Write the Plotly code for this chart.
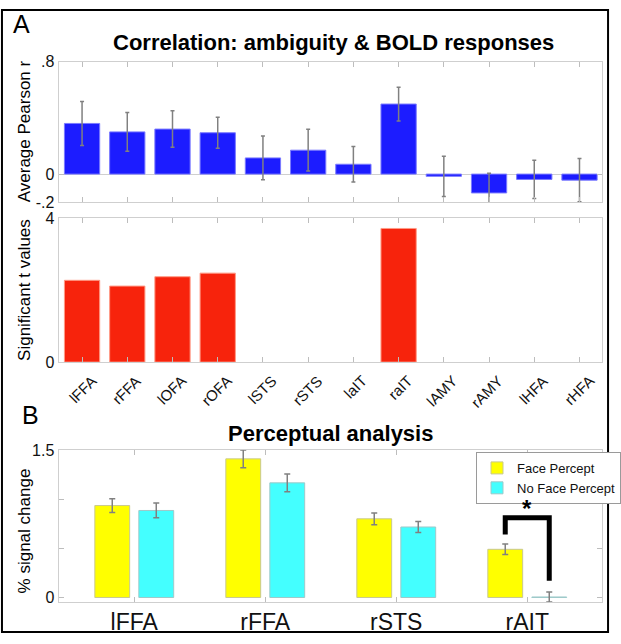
import plotly.graph_objects as go

# ---- data ----
regions = ['lFFA', 'rFFA', 'lOFA', 'rOFA', 'lSTS', 'rSTS', 'laIT', 'raIT',
           'lAMY', 'rAMY', 'lHFA', 'rHFA']
corr_r = [0.36, 0.30, 0.32, 0.294, 0.115, 0.17, 0.07, 0.498,
          -0.016, -0.134, -0.038, -0.043]
corr_err = [0.156, 0.137, 0.13, 0.11, 0.155, 0.148, 0.126, 0.12,
            0.143, 0.14, 0.136, 0.154]
t_values = [2.27, 2.11, 2.37, 2.47, None, None, None, 3.71,
            None, None, None, None]

percept_regions = ['lFFA', 'rFFA', 'rSTS', 'rAIT']
face = [0.935, 1.41, 0.80, 0.49]
face_err = [0.07, 0.09, 0.06, 0.053]
no_face = [0.885, 1.166, 0.717, 0.005]
no_face_err = [0.075, 0.09, 0.057, 0.05]

# significance bracket for rAIT (face vs no face)
sig_region = 3
bracket_top = 0.81
bracket_feet = [0.64, 0.17]
star_y = 0.91

FONT = 'Liberation Sans, Arial, sans-serif'
W, H = 621, 644
box = '#cfcfcf'

fig = go.Figure()

# ---- panel A, top: correlation ----
fig.add_trace(go.Bar(
    x=regions, y=corr_r, width=0.78,
    marker=dict(color='#1c1cff', line=dict(color='#7a7aff', width=1)),
    error_y=dict(type='data', array=corr_err, color='#808080',
                 thickness=1.5, width=2),
    xaxis='x', yaxis='y', showlegend=False))

# ---- panel A, bottom: t values ----
fig.add_trace(go.Bar(
    x=regions, y=t_values, width=0.78,
    marker=dict(color='#f7230c', line=dict(color='#ff9a85', width=1)),
    xaxis='x2', yaxis='y2', showlegend=False))

# ---- panel B: perceptual analysis ----
bw = 0.266
off_face, off_noface = -0.301, 0.035
xs = list(range(len(percept_regions)))
fig.add_trace(go.Bar(
    x=xs, y=face, width=bw, offset=off_face, name='Face Percept',
    marker=dict(color='#ffff00', line=dict(color='#c9c98f', width=1)),
    error_y=dict(type='data', array=face_err, color='#808080',
                 thickness=1.5, width=3),
    xaxis='x3', yaxis='y3'))
fig.add_trace(go.Bar(
    x=xs, y=no_face, width=bw, offset=off_noface, name='No Face Percept',
    marker=dict(color='#44ffff', line=dict(color='#9ec9c9', width=1)),
    error_y=dict(type='data', array=no_face_err, color='#808080',
                 thickness=1.5, width=3),
    xaxis='x3', yaxis='y3'))

lx = sig_region + off_face + bw / 2
rx = sig_region + off_noface + bw / 2
fig.add_trace(go.Scatter(
    x=[lx, lx, rx, rx],
    y=[bracket_feet[0], bracket_top, bracket_top, bracket_feet[1]],
    mode='lines', line=dict(color='black', width=5),
    xaxis='x3', yaxis='y3', showlegend=False, hoverinfo='skip'))

ax_common = dict(showline=True, linecolor=box, linewidth=1, mirror='ticks',
                 ticks='inside', ticklen=5, tickcolor='#bdbdbd',
                 showgrid=False, tickfont=dict(family=FONT, size=16, color='#111'))

xdom = [59.5 / W, 611.5 / W]


def ydom(top, bottom):
    return [1 - bottom / H, 1 - top / H]


fig.update_layout(
    width=W, height=H,
    margin=dict(l=0, r=0, t=0, b=0),
    paper_bgcolor='white', plot_bgcolor='white',
    barmode='overlay',
    font=dict(family=FONT, color='black'),
    xaxis=dict(ax_common, domain=xdom, anchor='y', range=[-0.52, 11.49],
               showticklabels=False),
    yaxis=dict(ax_common, domain=ydom(55, 199.5), anchor='x',
               range=[-0.2, 0.8], tickvals=[-0.2, 0, 0.8],
               ticktext=['-.2', '0', '.8'],
               zeroline=True, zerolinecolor=box, zerolinewidth=1),
    xaxis2=dict(ax_common, domain=xdom, anchor='y2', range=[-0.52, 11.49],
                showticklabels=False),
    yaxis2=dict(ax_common, domain=ydom(215.7, 363.7), anchor='x2',
                range=[0, 4], tickvals=[0, 4], zeroline=False),
    xaxis3=dict(ax_common, domain=xdom, anchor='y3', range=[-0.578, 3.568],
                tickvals=xs, ticktext=percept_regions,
                tickfont=dict(family=FONT, size=23, color='#111')),
    yaxis3=dict(ax_common, domain=ydom(454, 610), anchor='x3',
                range=[-0.045, 1.5], tickvals=[0, 0.5, 1, 1.5],
                ticktext=['0', '', '', '1.5'], zeroline=False),
    legend=dict(x=484 / W, y=1 - 456 / H, xanchor='left', yanchor='top',
                bgcolor='white', bordercolor='#9a9a9a', borderwidth=1,
                font=dict(family=FONT, size=13, color='#111'),
                tracegroupgap=0, itemwidth=30),
)

# rotated region labels under panel A
for r in regions:
    fig.add_annotation(text=r, x=r, xref='x2', y=1 - 371 / H, yref='paper',
                       xanchor='right', yanchor='top', xshift=20,
                       textangle=-45, showarrow=False,
                       font=dict(family=FONT, size=15, color='#111'))

ann = [
    dict(text='A', x=22 / W, y=1 - 16 / H, font=dict(size=25)),
    dict(text='B', x=31 / W, y=1 - 418 / H, font=dict(size=25)),
    dict(text='<b>Correlation: ambiguity & BOLD responses</b>',
         x=339 / W, y=1 - 35 / H, font=dict(size=22)),
    dict(text='<b>Perceptual analysis</b>', x=336 / W, y=1 - 437 / H,
         font=dict(size=22)),
    dict(text='Average Pearson r', x=25 / W, y=1 - 127 / H,
         textangle=-90, font=dict(size=17)),
    dict(text='Significant t values', x=25 / W, y=1 - 290 / H,
         textangle=-90, font=dict(size=17)),
    dict(text='% signal change', x=25 / W, y=1 - 537 / H,
         textangle=-90, font=dict(size=17)),
]
for a in ann:
    fig.add_annotation(xref='paper', yref='paper', showarrow=False,
                       xanchor='center', yanchor='middle', **a)

fig.add_annotation(text='<b>*</b>', x=sig_region, y=star_y, xref='x3', yref='y3',
                   showarrow=False, font=dict(size=24, color='black'))

# outer frame
fig.add_shape(type='rect', xref='paper', yref='paper',
              x0=2 / W, x1=1 - 3 / W, y0=3 / H, y1=1 - 2 / H,
              line=dict(color='black', width=2))

fig.write_html('out.html', config={'displayModeBar': False},
               post_script="document.body.style.margin='0';"
                           "document.body.style.overflow='hidden';")
